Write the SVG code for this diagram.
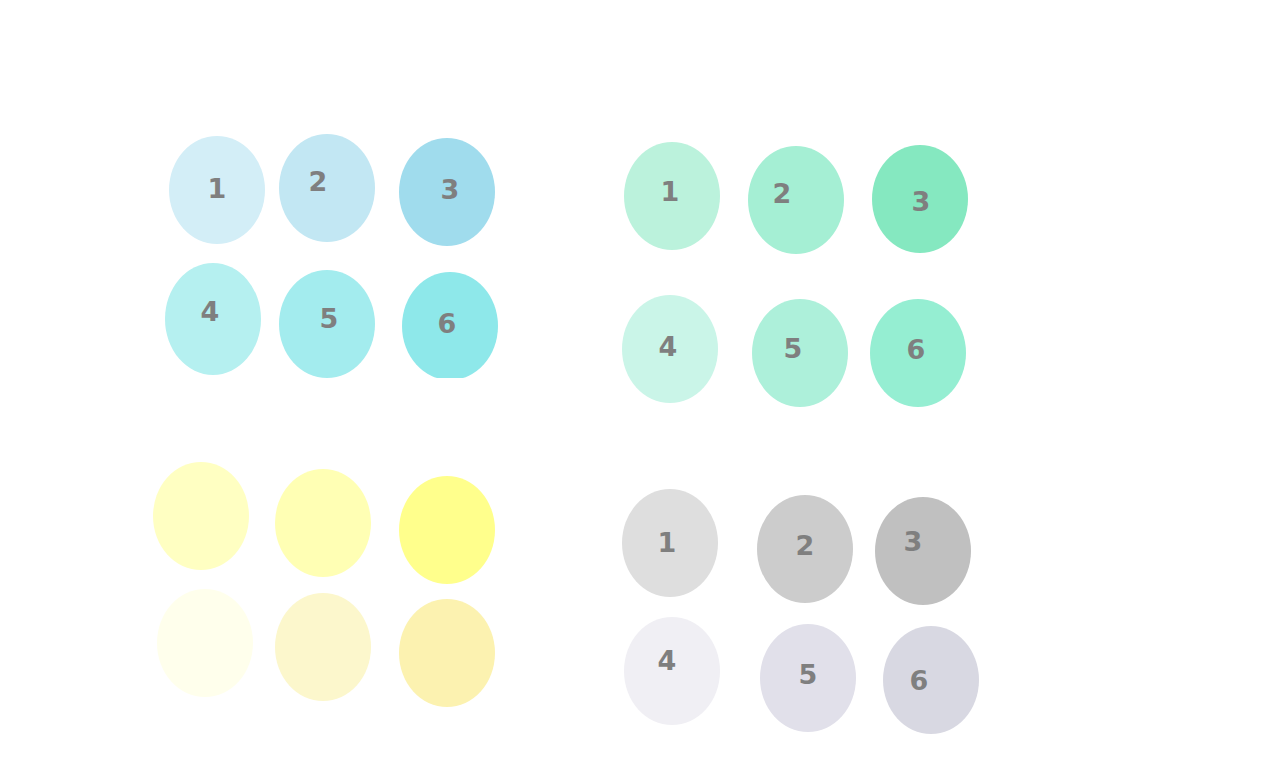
<svg xmlns="http://www.w3.org/2000/svg" width="1280" height="777" viewBox="0 0 1280 777">
<style>
text{font-family:"DejaVu Sans","Verdana",sans-serif;font-weight:bold;font-size:27px;fill:#7f7f7f;text-anchor:middle;dominant-baseline:central}
</style>
<defs>
<clipPath id="cb6"><rect x="390" y="260" width="120" height="118"/></clipPath>
</defs>
<rect width="1280" height="777" fill="#ffffff"/>
<g id="connectors"/>
<g id="blue">
<g id="b1"><ellipse cx="217" cy="190" rx="48" ry="54" fill="#d3eef7"/><text x="217" y="188">1</text></g>
<g id="b2"><ellipse cx="327" cy="188" rx="48" ry="54" fill="#c2e7f3"/><text x="318" y="181">2</text></g>
<g id="b3"><ellipse cx="447" cy="192" rx="48" ry="54" fill="#a0dced"/><text x="450" y="189">3</text></g>
<g id="b4"><ellipse cx="213" cy="319" rx="48" ry="56" fill="#b5f0f0"/><text x="210" y="311">4</text></g>
<g id="b5"><ellipse cx="327" cy="324" rx="48" ry="54" fill="#a3ecee"/><text x="329" y="318">5</text></g>
<g id="b6"><ellipse cx="450" cy="326" rx="48" ry="54" fill="#8ee8ea" clip-path="url(#cb6)"/><text x="447" y="323">6</text></g>
</g>
<g id="green">
<g id="g1"><ellipse cx="672" cy="196" rx="48" ry="54" fill="#bbf2dc"/><text x="670" y="191">1</text></g>
<g id="g2"><ellipse cx="796" cy="200" rx="48" ry="54" fill="#a5efd4"/><text x="782" y="193">2</text></g>
<g id="g3"><ellipse cx="920" cy="199" rx="48" ry="54" fill="#85e8c0"/><text x="921" y="201">3</text></g>
<g id="g4"><ellipse cx="670" cy="349" rx="48" ry="54" fill="#caf5e8"/><text x="668" y="346">4</text></g>
<g id="g5"><ellipse cx="800" cy="353" rx="48" ry="54" fill="#adf0da"/><text x="793" y="348">5</text></g>
<g id="g6"><ellipse cx="918" cy="353" rx="48" ry="54" fill="#95eed2"/><text x="916" y="349">6</text></g>
</g>
<g id="yellow">
<g id="y1"><ellipse cx="201" cy="516" rx="48" ry="54" fill="#ffffc2"/></g>
<g id="y2"><ellipse cx="323" cy="523" rx="48" ry="54" fill="#ffffb4"/></g>
<g id="y3"><ellipse cx="447" cy="530" rx="48" ry="54" fill="#ffff8c"/></g>
<g id="y4"><ellipse cx="205" cy="643" rx="48" ry="54" fill="#ffffec"/></g>
<g id="y5"><ellipse cx="323" cy="647" rx="48" ry="54" fill="#fcf7cc"/></g>
<g id="y6"><ellipse cx="447" cy="653" rx="48" ry="54" fill="#fcf2b0"/></g>
</g>
<g id="gray">
<g id="k1"><ellipse cx="670" cy="543" rx="48" ry="54" fill="#dedede"/><text x="667" y="542">1</text></g>
<g id="k2"><ellipse cx="805" cy="549" rx="48" ry="54" fill="#cccccc"/><text x="805" y="545">2</text></g>
<g id="k3"><ellipse cx="923" cy="551" rx="48" ry="54" fill="#c0c0c0"/><text x="913" y="541">3</text></g>
<g id="k4"><ellipse cx="672" cy="671" rx="48" ry="54" fill="#f0eff4"/><text x="667" y="660">4</text></g>
<g id="k5"><ellipse cx="808" cy="678" rx="48" ry="54" fill="#e1e0ea"/><text x="808" y="674">5</text></g>
<g id="k6"><ellipse cx="931" cy="680" rx="48" ry="54" fill="#d8d8e2"/><text x="919" y="680">6</text></g>
</g>
</svg>
